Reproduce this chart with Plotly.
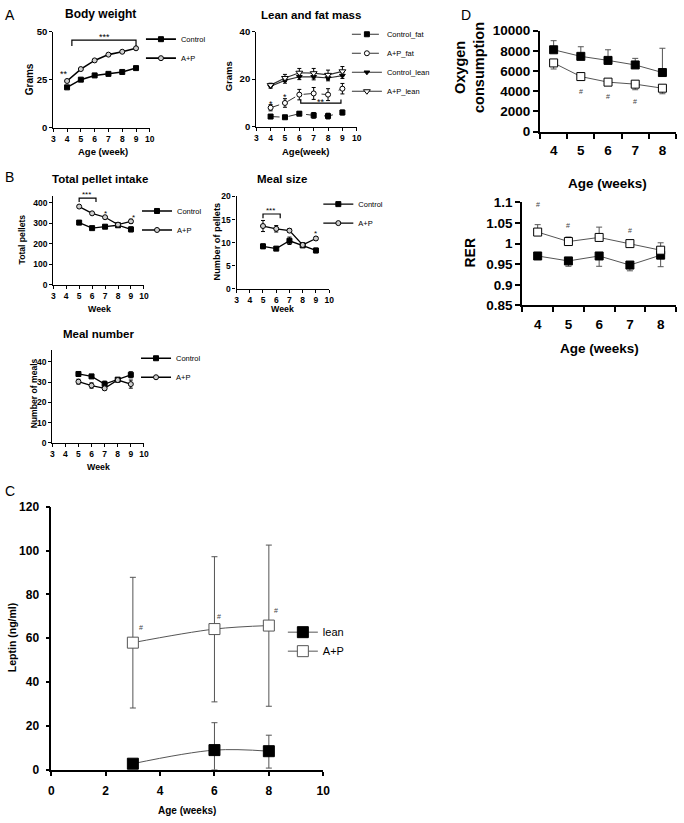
import plotly.graph_objects as go

W, H = 684, 823
FONT = "Liberation Sans, Arial, Helvetica, sans-serif"

# ---------------- data ----------------
bw_weeks = [4, 5, 6, 7, 8, 9]
bw_control = [21.0, 25.0, 27.2, 28.0, 29.0, 31.0]
bw_ap = [24.3, 30.5, 35.0, 38.0, 39.5, 41.3]

lf_weeks = [4, 5, 6, 7, 8, 9]
control_fat = [4.3, 4.0, 5.5, 4.8, 4.5, 6.0]
control_fat_err = [0.6, 0.6, 0.8, 1.2, 1.2, 1.0]
ap_fat = [8.0, 10.0, 13.5, 14.0, 13.5, 16.0]
ap_fat_err = [1.3, 1.8, 2.2, 2.5, 2.5, 2.2]
control_lean = [17.0, 19.5, 21.0, 21.0, 20.5, 21.5]
control_lean_err = [0.8, 1.2, 1.2, 1.3, 1.2, 1.2]
ap_lean = [17.5, 20.5, 22.7, 22.5, 21.8, 23.3]
ap_lean_err = [0.8, 1.5, 1.8, 2.0, 2.0, 2.0]

pel_weeks = [5, 6, 7, 8, 9]
pel_control = [303, 276, 283, 290, 270]
pel_control_err = [10, 7, 8, 8, 12]
pel_ap = [381, 348, 329, 293, 309]
pel_ap_err = [5, 4, 5, 6, 10]

ms_control = [9.2, 8.7, 10.4, 9.4, 8.3]
ms_control_err = [0.5, 0.3, 0.8, 0.4, 0.5]
ms_ap = [13.6, 13.0, 12.6, 9.5, 10.9]
ms_ap_err = [1.2, 0.7, 0.4, 0.4, 0.4]

mn_control = [34.0, 32.8, 29.0, 31.2, 33.6]
mn_control_err = [1.0, 0.7, 1.5, 1.0, 1.5]
mn_ap = [30.2, 28.3, 26.9, 31.0, 29.0]
mn_ap_err = [1.2, 1.3, 0.8, 0.8, 2.0]

lep_weeks = [3, 6, 8]
lep_lean = [2.8, 9.0, 8.5]
lep_lean_err_up = [0.0, 12.5, 7.3]
lep_lean_err_down = [0.0, 9.0, 7.7]
lep_ap = [58.0, 64.2, 65.8]
lep_ap_err_up = [29.8, 33.0, 36.7]
lep_ap_err_down = [29.8, 33.2, 36.8]

d_weeks = [4, 5, 6, 7, 8]
o2_control = [8100, 7450, 7050, 6600, 5850]
o2_control_err = [900, 950, 1050, 650, 2400]
o2_ap = [6800, 5450, 4900, 4700, 4300]
o2_ap_err = [600, 200, 150, 550, 550]

rer_control = [0.970, 0.958, 0.970, 0.948, 0.972]
rer_control_err = [0.008, 0.013, 0.025, 0.014, 0.028]
rer_ap = [1.028, 1.005, 1.015, 1.000, 0.984]
rer_ap_err = [0.018, 0.011, 0.025, 0.003, 0.018]

week_ticks = [3, 4, 5, 6, 7, 8, 9, 10]
lep_xticks = [0, 2, 4, 6, 8, 10]
lep_yticks = [0, 20, 40, 60, 80, 100, 120]
o2_yticks = [0, 2000, 4000, 6000, 8000, 10000]
rer_yticks = [0.85, 0.9, 0.95, 1.0, 1.05, 1.1]
d_cat_edges = [3.5, 4.5, 5.5, 6.5, 7.5, 8.5]


# ---------------- helpers ----------------
def px(x):
    return x / W


def py(y):
    return 1 - y / H


def err(arr, width=2, thick=1, color="black"):
    return dict(type="data", array=arr, visible=True, color=color, thickness=thick, width=width)


def err_asym(up, down, width=2, thick=1, color="black"):
    return dict(type="data", symmetric=False, array=up, arrayminus=down, visible=True,
                color=color, thickness=thick, width=width)


fig = go.Figure()


def add(x, y, n, name, symbol, mcolor, size=5, lcolor="black", lwidth=1.3, dash="solid",
        error=None, legend=None, mline="black", shape="linear", showlegend=True):
    suffix = "" if n == 1 else str(n)
    fig.add_trace(go.Scatter(
        x=x, y=y, name=name, mode="lines+markers",
        xaxis="x" + suffix, yaxis="y" + suffix,
        line=dict(color=lcolor, width=lwidth, dash=dash, shape=shape),
        marker=dict(symbol=symbol, size=size, color=mcolor, line=dict(color=mline, width=1)),
        error_y=error, legend=legend, showlegend=showlegend, cliponaxis=False,
    ))


# Panel A - body weight
add(bw_weeks, bw_control, 1, "Control", "square", "black", lwidth=1.6, legend="legend")
add(bw_weeks, bw_ap, 1, "A+P", "circle", "#cfcfcf", lwidth=1.6, legend="legend")

# Panel A - lean and fat mass
add(lf_weeks, control_fat, 2, "Control_fat", "square", "black", lwidth=1, dash="dash",
    error=err(control_fat_err), legend="legend2", lcolor="#333")
add(lf_weeks, ap_fat, 2, "A+P_fat", "circle", "white", lwidth=1, dash="dash",
    error=err(ap_fat_err), legend="legend2", lcolor="#333")
add(lf_weeks, control_lean, 2, "Control_lean", "triangle-down", "black", lwidth=1.2,
    error=err(control_lean_err), legend="legend2", lcolor="#333")
add(lf_weeks, ap_lean, 2, "A+P_lean", "triangle-down", "white", size=6, lwidth=1.2,
    error=err(ap_lean_err), legend="legend2", lcolor="#333")

# Panel B - total pellet intake
add(pel_weeks, pel_control, 3, "Control", "square", "black", error=err(pel_control_err), legend="legend3")
add(pel_weeks, pel_ap, 3, "A+P", "circle", "#cfcfcf", error=err(pel_ap_err), legend="legend3")

# Panel B - meal size
add(pel_weeks, ms_control, 4, "Control", "square", "black", error=err(ms_control_err), legend="legend4")
add(pel_weeks, ms_ap, 4, "A+P", "circle", "#cfcfcf", error=err(ms_ap_err), legend="legend4")

# Panel B - meal number
add(pel_weeks, mn_control, 5, "Control", "square", "black", error=err(mn_control_err), legend="legend5")
add(pel_weeks, mn_ap, 5, "A+P", "circle", "#cfcfcf", error=err(mn_ap_err), legend="legend5")

# Panel C - leptin
add(lep_weeks, lep_lean, 6, "lean", "square", "black", size=11, lcolor="#555", lwidth=1,
    error=err_asym(lep_lean_err_up, lep_lean_err_down, width=3, color="#555"),
    legend="legend6", shape="spline")
add(lep_weeks, lep_ap, 6, "A+P", "square", "white", size=11, lcolor="#555", lwidth=1,
    error=err_asym(lep_ap_err_up, lep_ap_err_down, width=3, color="#555"),
    legend="legend6", mline="#555", shape="spline")

# Panel D - oxygen consumption
zeros5 = [0, 0, 0, 0, 0]
add(d_weeks, o2_control, 7, "Control", "square", "black", size=8, lcolor="#555", lwidth=1,
    error=err_asym(o2_control_err, zeros5, width=3, color="#555"), showlegend=False)
add(d_weeks, o2_ap, 7, "A+P", "square", "white", size=8, lcolor="#555", lwidth=1,
    error=err_asym(zeros5, o2_ap_err, width=3, color="#555"), showlegend=False)

# Panel D - RER
add(d_weeks, rer_control, 8, "Control", "square", "black", size=8, lcolor="#555", lwidth=1,
    error=err_asym(zeros5, rer_control_err, width=3, color="#555"), showlegend=False)
add(d_weeks, rer_ap, 8, "A+P", "square", "white", size=8, lcolor="#555", lwidth=1,
    error=err_asym(rer_ap_err, zeros5, width=3, color="#555"), showlegend=False)


# ---------------- axes ----------------
def xax(n, left, right, rng, tickvals, size=8.5, lw=1.3, ticklen=3, standoff=0, **kw):
    d = dict(domain=[px(left), px(right)], range=rng, anchor="y" + ("" if n == 1 else str(n)),
             tickmode="array", tickvals=tickvals, showline=True, linecolor="black",
             linewidth=lw, ticks="outside", ticklen=ticklen, tickwidth=lw, tickcolor="black",
             showgrid=False, zeroline=False, ticklabelstandoff=standoff,
             tickfont=dict(family=FONT, size=size, color="black", weight="bold"))
    d.update(kw)
    return d


def yax(n, top, bottom, rng, tickvals, size=8.5, lw=1.3, ticklen=3, standoff=0, **kw):
    d = dict(domain=[py(bottom), py(top)], range=rng, anchor="x" + ("" if n == 1 else str(n)),
             tickmode="array", tickvals=tickvals, showline=True, linecolor="black",
             linewidth=lw, ticks="outside", ticklen=ticklen, tickwidth=lw, tickcolor="black",
             showgrid=False, zeroline=False, ticklabelstandoff=standoff,
             tickfont=dict(family=FONT, size=size, color="black", weight="bold"))
    d.update(kw)
    return d


d_minor = dict(tickmode="array", tickvals=d_cat_edges, ticks="outside",
               ticklen=5, tickwidth=2, tickcolor="black")

layout_axes = dict(
    xaxis=xax(1, 51, 149, [3, 10], week_ticks),
    yaxis=yax(1, 25, 123, [0, 50], [0, 25, 50], size=9.5),
    xaxis2=xax(2, 257, 359, [3, 10], week_ticks),
    yaxis2=yax(2, 25, 122, [0, 40], [0, 20, 40], size=9.5),
    xaxis3=xax(3, 51, 143, [3, 10], week_ticks),
    yaxis3=yax(3, 193, 283, [0, 430], [0, 100, 200, 300, 400], size=8.5),
    xaxis4=xax(4, 237, 331, [3, 10], week_ticks),
    yaxis4=yax(4, 193, 287, [0, 20], [0, 5, 10, 15, 20], size=8.5),
    xaxis5=xax(5, 50, 143, [3, 10], week_ticks),
    yaxis5=yax(5, 349, 444, [0, 46], [0, 10, 20, 30, 40], size=8.5),
    xaxis6=xax(6, 49, 325, [0, 10], lep_xticks, size=12, lw=1.5, ticklen=4, standoff=5),
    yaxis6=yax(6, 509, 777, [0, 120], lep_yticks, size=12, lw=1.5, ticklen=4, standoff=4),
    xaxis7=xax(7, 545, 683, [3.5, 8.5], d_weeks, size=13.5, lw=2, ticklen=0, standoff=5,
               ticks="", minor=d_minor),
    yaxis7=yax(7, 24, 127, [0, 10000], o2_yticks, size=13.5, lw=2, ticklen=5, tickformat="d"),
    xaxis8=xax(8, 527, 683, [3.5, 8.5], d_weeks, size=13.5, lw=2, ticklen=0, standoff=5,
               ticks="", minor=d_minor),
    yaxis8=yax(8, 199, 304, [0.85, 1.1], rer_yticks, size=13.5, lw=2, ticklen=5),
)


# ---------------- legends ----------------
def leg(x, y, size=7.5):
    return dict(x=px(x), y=py(y), xanchor="left", yanchor="top", bgcolor="rgba(0,0,0,0)",
                font=dict(family=FONT, size=size, color="black"), itemwidth=30,
                tracegroupgap=0, borderwidth=0)


# ---------------- annotations ----------------
anns = []


def ann(text, x, y, size, bold=False, angle=0, xanchor="center", yanchor="middle", color="black"):
    anns.append(dict(text=("<b>%s</b>" % text) if bold else text, x=px(x), y=py(y),
                     xref="paper", yref="paper", showarrow=False, textangle=angle,
                     xanchor=xanchor, yanchor=yanchor,
                     font=dict(family=FONT, size=size, color=color)))


def dann(text, x, y, n, size=8, color="black"):
    s = "" if n == 1 else str(n)
    anns.append(dict(text=text, x=x, y=y, xref="x" + s, yref="y" + s, showarrow=False,
                     font=dict(family=FONT, size=size, color=color)))


# panel letters
ann("A", 0, 8, 14, xanchor="left")
ann("B", 0, 173, 14, xanchor="left")
ann("C", 0, 493, 14, xanchor="left")
ann("D", 463, 8, 14, xanchor="left")

# titles
ann("Body weight", 99, 7, 12, bold=True)
ann("Lean and fat mass", 313, 8, 11.5, bold=True)
ann("Total pellet intake", 98, 175, 11.5, bold=True)
ann("Meal size", 284, 175, 11.5, bold=True)
ann("Meal number", 97, 333, 11.5, bold=True)

# axis titles
ann("Grams", 27, 74, 10, bold=True, angle=-90)
ann("Age (week)", 101, 147, 9.5, bold=True)
ann("Grams", 229, 71, 9.5, bold=True, angle=-90)
ann("Age(week)", 308, 147, 9.5, bold=True)
ann("Total pellets", 19, 237, 8.6, bold=True, angle=-90)
ann("Week", 98, 308, 8.8, bold=True)
ann("Number of pellets", 217, 239, 9.2, bold=True, angle=-90)
ann("Week", 284, 308, 8.8, bold=True)
ann("Number of meals", 31, 394, 8.6, bold=True, angle=-90)
ann("Week", 97, 469, 8.8, bold=True)
ann("Leptin (ng/ml)", 9, 642, 10.5, bold=True, angle=-90)
ann("Age (weeks)", 187, 818, 10, bold=True)
ann("Oxygen<br>consumption", 474, 62, 14.5, bold=True, angle=-90)
ann("Age (weeks)", 613, 180, 13.5, bold=True)
ann("RER", 474, 250, 14, bold=True, angle=-90)
ann("Age (weeks)", 605, 348, 13.5, bold=True)

# significance marks
dann("***", 6.7, 47.2, 1, size=9)
dann("**", 3.8, 27.8, 1, size=9)
dann("*", 4.0, 9.6, 2, size=9)
dann("*", 5.0, 12.6, 2, size=9)
dann("**", 7.5, 10.4, 2, size=9)
ann("***", 85, 191, 8)
dann("*", 7.0, 345, 3, size=8)
dann("*", 9.2, 330, 3, size=8)
dann("***", 5.6, 16.9, 4, size=8)
dann("*", 9.0, 11.9, 4, size=8)
dann("#", 3.3, 65, 6, size=7, color="#444")
dann("#", 6.15, 70, 6, size=7, color="#444")
dann("#", 8.25, 72.5, 6, size=7, color="#444")
dann("#", 5, 4000, 7, size=7, color="#444")
dann("#", 6, 3500, 7, size=7, color="#444")
dann("#", 7, 2950, 7, size=7, color="#444")
dann("#", 4, 1.096, 8, size=7, color="#444")
dann("#", 5, 1.044, 8, size=7, color="#444")
dann("#", 7, 1.033, 8, size=7, color="#444")


# significance brackets
def bracket(n, x0, x1, y, tip):
    s = "" if n == 1 else str(n)
    return dict(type="path", xref="x" + s, yref="y" + s,
                path="M %s,%s L %s,%s L %s,%s L %s,%s" % (x0, tip, x0, y, x1, y, x1, tip),
                line=dict(color="black", width=1.2))


shapes = [
    bracket(1, 4.35, 9.0, 45.5, 42.5),
    bracket(2, 6.1, 8.9, 9.9, 11.5),
    bracket(3, 5.0, 6.3, 422, 403),
    bracket(4, 5.0, 6.3, 16.2, 15.3),
]

fig.update_layout(
    width=W, height=H, autosize=False,
    margin=dict(l=0, r=0, t=0, b=0),
    paper_bgcolor="white", plot_bgcolor="white",
    font=dict(family=FONT, color="black"),
    annotations=anns, shapes=shapes,
    legend=leg(140, 18),
    legend2=leg(349, 13),
    legend3=leg(136, 193),
    legend4=leg(320, 186),
    legend5=leg(135, 343),
    legend6=leg(284, 622, size=11),
    **layout_axes,
)

fig.write_html("out.html", config={"displayModeBar": False},
               post_script="document.body.style.margin='0';"
                           "document.documentElement.style.overflow='hidden';")
